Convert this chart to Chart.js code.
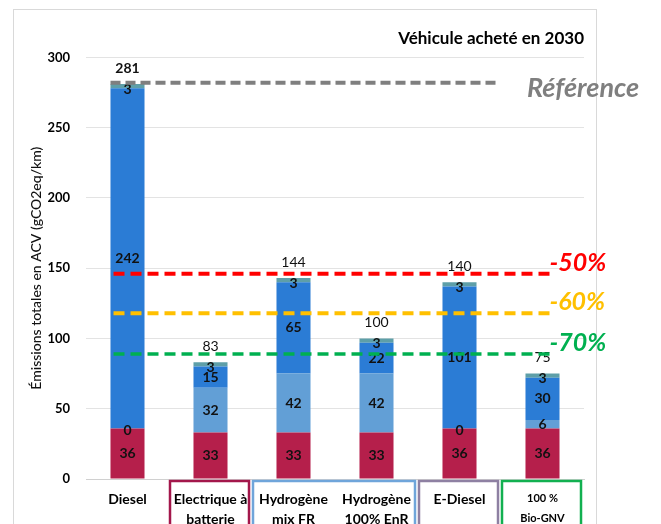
<!DOCTYPE html>
<html>
<head>
<meta charset="utf-8">
<script src="https://cdn.jsdelivr.net/npm/chart.js@4"></script>
<style>
  html, body { margin: 0; padding: 0; background: #fff; }
  #wrap { width: 661px; height: 524px; }
</style>
</head>
<body>
<div id="wrap"><canvas id="acvChart" width="661" height="524"></canvas></div>
<script>
// ====== Données ======
const categories = [
  'Diesel',
  ['Electrique à', 'batterie'],
  ['Hydrogène', 'mix FR'],
  ['Hydrogène', '100% EnR'],
  'E-Diesel',
  ['100 %', 'Bio-GNV']
];
const vehicule = [36, 33, 33, 33, 36, 36];
const energieA = [0, 32, 42, 42, 0, 6];
const energieB = [242, 15, 65, 22, 101, 30];
const entretien = [3, 3, 3, 3, 3, 3];
const totaux = [281, 83, 144, 100, 140, 75];
const yTicks = [0, 50, 100, 150, 200, 250, 300];

// lignes de référence
const refNames = ['Référence', '-50%', '-60%', '-70%'];
const refValues = [282, 146, 118, 89];
const refColors = ['#7f7f7f', '#ff0000', '#ffc000', '#00b050'];

// cadres autour des étiquettes de l'axe X : [première catégorie, dernière catégorie]
const boxRanges = [[1, 1], [2, 3], [4, 4], [5, 5]];
const boxColors = ['#a3174b', '#6fa5da', '#8e80a2', '#12b050'];

const FONT = 'Lato, "Open Sans", sans-serif';

// ====== Plugin : cadre, lignes de référence, étiquettes ======
const decorPlugin = {
  id: 'decor',
  beforeDraw(chart) {
    const c = chart.ctx;
    c.save();
    c.strokeStyle = '#d9d9d9';
    c.lineWidth = 1;
    c.strokeRect(13.5, 9.5, 583, 530);
    c.restore();
  },
  afterDatasetsDraw(chart) {
    const c = chart.ctx;
    const x = chart.scales.x;
    const y = chart.scales.y;
    const step = x.getPixelForValue(1) - x.getPixelForValue(0);

    // valeurs dans les segments
    c.save();
    c.textAlign = 'center';
    c.textBaseline = 'middle';
    c.fillStyle = '#111';
    c.font = 'bold 14px ' + FONT;
    chart.data.datasets.forEach((ds, i) => {
      const meta = chart.getDatasetMeta(i);
      meta.data.forEach((el, j) => {
        const v = ds.data[j];
        let ty = (el.y + el.base) / 2;
        if (v === 0) ty = el.y + 2;
        if (i === 3) ty = el.y + 5;
        c.fillText(String(v), el.x, ty);
      });
    });

    // totaux au-dessus des barres
    const topMeta = chart.getDatasetMeta(chart.data.datasets.length - 1);
    topMeta.data.forEach((el, j) => {
      c.font = (j === 0 ? 'bold ' : '') + '14px ' + FONT;
      c.fillText(String(totaux[j]), el.x, el.y - 16);
    });
    c.restore();

    // lignes pointillées
    c.save();
    refValues.forEach((v, k) => {
      const py = y.getPixelForValue(v);
      const x0 = x.getPixelForValue(0) - (k === 0 ? 17 : 14);
      const x1 = k === 0 ? x.getPixelForValue(4) + step / 2 - 1 : x.getPixelForValue(5) + 9;
      c.strokeStyle = refColors[k];
      c.lineWidth = k === 3 ? 3.5 : 4;
      c.setLineDash(k === 0 ? [10, 5] : [11, 6]);
      c.beginPath();
      c.moveTo(x0, py);
      c.lineTo(x1, py);
      c.stroke();
      c.setLineDash([]);
      c.fillStyle = refColors[k];
      c.textBaseline = 'middle';
      c.textAlign = 'left';
      if (k === 0) {
        c.font = 'italic bold 27px ' + FONT;
        c.fillText(refNames[k], x1 + 27, py + 6);
      } else {
        c.font = 'italic bold 25px ' + FONT;
        c.fillText(refNames[k], x.getPixelForValue(5) + 7, py - 11);
      }
    });
    c.restore();

    // cadres de l'axe X
    c.save();
    c.lineWidth = 2.5;
    boxRanges.forEach((r, k) => {
      const left = x.getPixelForValue(r[0]) - step / 2 + 1;
      const right = x.getPixelForValue(r[1]) + step / 2 - 3;
      c.strokeStyle = boxColors[k];
      c.strokeRect(left, chart.chartArea.bottom + 2, right - left, 60);
    });
    c.restore();
  }
};

// ====== Graphique ======
const ctx = document.getElementById('acvChart').getContext('2d');
new Chart(ctx, {
  type: 'bar',
  data: {
    labels: categories,
    datasets: [
      { label: 'Véhicule', data: vehicule, backgroundColor: '#b51f4b' },
      { label: 'Énergie (amont)', data: energieA, backgroundColor: '#629fd6' },
      { label: 'Énergie', data: energieB, backgroundColor: '#2b7cd5' },
      { label: 'Entretien', data: entretien, backgroundColor: '#5e9fa8' }
    ]
  },
  options: {
    responsive: false,
    animation: false,
    datasets: { bar: { categoryPercentage: 1, barPercentage: 0.41 } },
    layout: { padding: { top: 17, left: 26, right: 77, bottom: 0 } },
    plugins: {
      legend: { display: false },
      tooltip: { enabled: false },
      title: {
        display: true,
        text: 'Véhicule acheté en 2030',
        align: 'end',
        color: '#000',
        font: { family: FONT, size: 17, weight: 'bold' },
        padding: { top: 11, bottom: 9 }
      }
    },
    scales: {
      x: {
        stacked: true,
        grid: { display: false, drawTicks: false },
        border: { color: '#d0d0d0' },
        ticks: {
          color: '#000',
          padding: 10,
          maxRotation: 0,
          autoSkip: false,
          font: (c) => ({ family: FONT, size: c.index === 5 ? 11 : 14, weight: 'bold', lineHeight: c.index === 5 ? 1.8 : 1.45 })
        },
        afterFit(scale) { scale.height = 45; }
      },
      y: {
        stacked: true,
        min: 0,
        max: 300,
        afterBuildTicks(scale) { scale.ticks = yTicks.map(v => ({ value: v })); },
        grid: { color: '#e3e3e3', drawTicks: false },
        border: { display: false },
        ticks: {
          color: '#000',
          padding: 16,
          font: { family: FONT, size: 13, weight: 'bold' }
        },
        title: {
          display: true,
          text: 'Émissions totales en ACV (gCO2eq/km)',
          color: '#111',
          font: { family: FONT, size: 14, weight: '500' },
          padding: { top: 2, bottom: 3 }
        },
        afterFit(scale) { scale.width = 60; }
      }
    }
  },
  plugins: [decorPlugin]
});
</script>
</body>
</html>
